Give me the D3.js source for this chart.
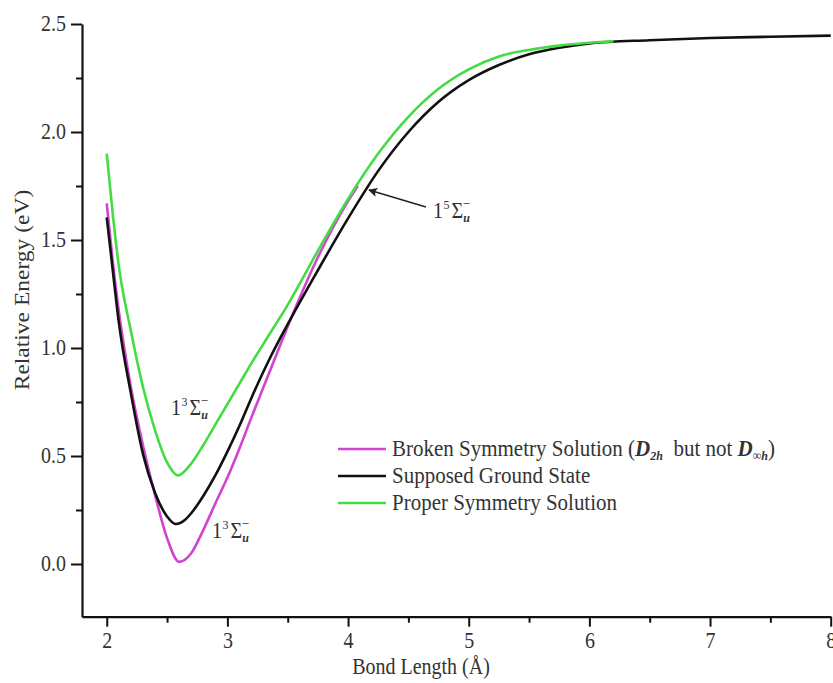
<!DOCTYPE html>
<html><head><meta charset="utf-8">
<script src="https://cdn.jsdelivr.net/npm/d3@7"></script>
<style>body{margin:0;background:#fff}svg{display:block}</style>
</head><body>
<svg id="chart" width="833" height="683"></svg>
<script>
// ---- data ----
const brokenX = [2.0, 2.05, 2.1, 2.2, 2.3, 2.4, 2.5, 2.6, 2.7, 2.8, 2.9, 3.0, 3.1, 3.2, 3.35, 3.5, 3.75, 4.0, 4.08];
const brokenY = [1.67, 1.40, 1.17, 0.82, 0.55, 0.32, 0.12, 0.01, 0.05, 0.157, 0.28, 0.40, 0.535, 0.68, 0.89, 1.10, 1.42, 1.68, 1.75];
const groundX = [2.0, 2.05, 2.1, 2.2, 2.3, 2.4, 2.5, 2.57, 2.65, 2.7, 2.8, 2.9, 3.0, 3.1, 3.2, 3.35, 3.5, 3.75, 4.0, 4.25, 4.5, 4.75, 5.0, 5.25, 5.5, 5.75, 6.0, 6.5, 7.0, 7.5, 8.0];
const groundY = [1.605, 1.36, 1.12, 0.79, 0.51, 0.33, 0.22, 0.185, 0.205, 0.235, 0.315, 0.41, 0.52, 0.64, 0.77, 0.95, 1.11, 1.36, 1.60, 1.82, 2.00, 2.14, 2.24, 2.31, 2.36, 2.39, 2.41, 2.425, 2.435, 2.441, 2.446];
const properX = [2.0, 2.05, 2.1, 2.2, 2.3, 2.4, 2.5, 2.59, 2.7, 2.8, 2.9, 3.0, 3.1, 3.2, 3.35, 3.5, 3.75, 4.0, 4.25, 4.5, 4.75, 5.0, 5.25, 5.5, 5.75, 6.0, 6.2];
const properY = [1.90, 1.62, 1.38, 1.08, 0.82, 0.62, 0.47, 0.41, 0.465, 0.55, 0.645, 0.74, 0.835, 0.93, 1.065, 1.20, 1.45, 1.69, 1.90, 2.07, 2.20, 2.29, 2.35, 2.38, 2.40, 2.413, 2.42];
const xTicks = [2, 3, 4, 5, 6, 7, 8];
const xMinor = [2.5, 3.5, 4.5, 5.5, 6.5, 7.5];
const yTicks = [0.0, 0.5, 1.0, 1.5, 2.0, 2.5];
const yMinor = [0.25, 0.75, 1.25, 1.75, 2.25];
const seriesNames = ["Broken Symmetry Solution", "Supposed Ground State", "Proper Symmetry Solution"];
const seriesColors = ["#d044d0", "#111111", "#44dc44"];

// ---- layout ----
const svg = d3.select("#chart");
const x = d3.scaleLinear().domain([1.795, 8]).range([82, 830.7]);
const y = d3.scaleLinear().domain([-0.244, 2.5]).range([616.7, 24]);
const serif = "'Liberation Serif','DejaVu Serif',serif";
const txt = "#333";
const stretch = 1.12;

const line = d3.line().x(d => x(d[0])).y(d => y(d[1])).curve(d3.curveMonotoneX);
const series = [
  d3.zip(brokenX, brokenY),
  d3.zip(groundX, groundY),
  d3.zip(properX, properY)
];
series.forEach((s, i) => {
  svg.append("path").datum(s).attr("d", line)
    .attr("fill", "none").attr("stroke", seriesColors[i]).attr("stroke-width", 2.6)
    .attr("stroke-linejoin", "round");
});

// ---- axes ----
const xAxis = svg.append("g").attr("transform", `translate(0,${y(-0.244)})`)
  .call(d3.axisBottom(x).tickValues(xTicks).tickFormat(d3.format("d")).tickSize(10).tickSizeOuter(0));
svg.append("g").attr("transform", `translate(0,${y(-0.244)})`)
  .call(d3.axisBottom(x).tickValues(xMinor).tickFormat("").tickSize(6).tickSizeOuter(0))
  .select(".domain").remove();
const yAxis = svg.append("g").attr("transform", `translate(${x(1.795)},0)`)
  .call(d3.axisLeft(y).tickValues(yTicks).tickFormat(d3.format(".1f")).tickSize(11).tickSizeOuter(0));
svg.append("g").attr("transform", `translate(${x(1.795)},0)`)
  .call(d3.axisLeft(y).tickValues(yMinor).tickFormat("").tickSize(6).tickSizeOuter(0))
  .select(".domain").remove();
svg.selectAll(".domain").attr("stroke", "#111").attr("stroke-width", 2.2);
svg.selectAll(".tick line").attr("stroke", "#111").attr("stroke-width", 2);
xAxis.selectAll(".tick text").attr("font-family", serif).attr("font-size", 20).attr("fill", txt)
  .attr("y", 0).attr("dy", 0).attr("text-anchor", "middle")
  .attr("transform", `translate(0,31) scale(1,${stretch})`);
yAxis.selectAll(".tick text").attr("font-family", serif).attr("font-size", 20).attr("fill", txt)
  .attr("x", 0).attr("dy", 0).attr("text-anchor", "end")
  .attr("transform", `translate(-16,6.5) scale(1,${stretch})`);

svg.append("text").attr("transform", `translate(421,674) scale(1,${stretch})`).attr("text-anchor", "middle")
  .attr("font-family", serif).attr("font-size", 20).attr("fill", txt).text("Bond Length (Å)");
svg.append("text").attr("transform", `translate(29,290) rotate(-90) scale(${stretch},1)`).attr("text-anchor", "middle")
  .attr("font-family", serif).attr("font-size", 21).attr("fill", txt).text("Relative Energy (eV)");

// ---- term symbol labels ----
function term(px, py, mult) {
  const t = svg.append("text").attr("transform", `translate(${px},${py}) scale(1,${stretch})`)
    .attr("font-family", serif).attr("fill", txt).attr("font-size", 20);
  t.append("tspan").text("1");
  t.append("tspan").attr("font-size", 12).attr("dy", -8).attr("dx", 0.5).text(mult);
  t.append("tspan").attr("dy", 8).attr("dx", 2).text("Σ");
  t.append("tspan").attr("font-size", 12).attr("font-weight", "bold").attr("font-style", "italic")
    .attr("dy", 4).attr("dx", 0).text("u");
  t.append("tspan").attr("font-size", 13).attr("dy", -13).attr("dx", -7).text("−");
}
term(171, 415, "3");
term(212, 538, "3");
term(433, 218, "5");

// arrow
svg.append("defs").append("marker").attr("id", "ah").attr("viewBox", "0 0 10 10")
  .attr("refX", 9).attr("refY", 5).attr("markerWidth", 8).attr("markerHeight", 7).attr("orient", "auto")
  .attr("markerUnits", "userSpaceOnUse")
  .append("path").attr("d", "M0,0 L10,5 L0,10 L2,5 z").attr("fill", "#222");
svg.append("defs").select(function(){return this;});
svg.select("marker").attr("markerWidth", 13).attr("markerHeight", 9);
svg.append("line").attr("x1", 426).attr("y1", 207).attr("x2", 369).attr("y2", 190)
  .attr("stroke", "#222").attr("stroke-width", 1.5).attr("marker-end", "url(#ah)");

// ---- legend ----
const ly = [449, 476, 503];
ly.forEach((yy, i) => {
  svg.append("line").attr("x1", 338).attr("x2", 386).attr("y1", yy).attr("y2", yy)
    .attr("stroke", seriesColors[i]).attr("stroke-width", 2.6);
});
function legText(yy) {
  return svg.append("text").attr("transform", `translate(392,${yy + 7}) scale(1,${stretch})`)
    .attr("font-family", serif).attr("font-size", 21).attr("fill", txt);
}
const t0 = legText(ly[0]);
t0.append("tspan").text(seriesNames[0] + " (");
t0.append("tspan").attr("font-weight", "bold").attr("font-style", "italic").text("D");
t0.append("tspan").attr("font-weight", "bold").attr("font-style", "italic").attr("font-size", 12).attr("dy", 4).text("2h");
t0.append("tspan").attr("dy", -4).text("\u00a0\u00a0but not ");
t0.append("tspan").attr("font-weight", "bold").attr("font-style", "italic").text("D");
t0.append("tspan").attr("font-weight", "bold").attr("font-style", "italic").attr("font-size", 12).attr("dy", 4).text("∞h");
t0.append("tspan").attr("dy", -4).text(")");
legText(ly[1]).text(seriesNames[1]);
legText(ly[2]).text(seriesNames[2]);
</script>
</body></html>
